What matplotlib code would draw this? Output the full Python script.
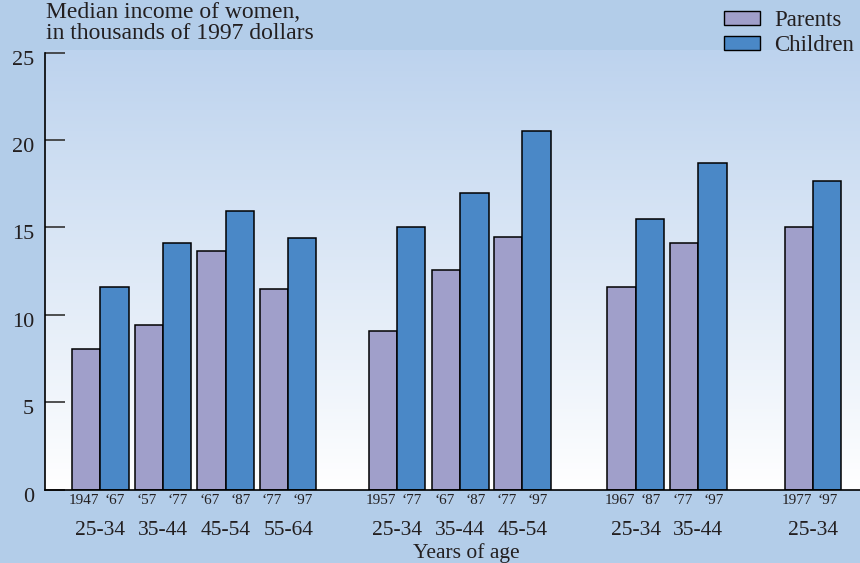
#!/usr/bin/env python3
import numpy as np
import matplotlib as mpl
mpl.use('Agg')
import matplotlib.pyplot as plt
import matplotlib.transforms as mtrans
from matplotlib.patches import Patch
from matplotlib.colors import LinearSegmentedColormap

# Data: median income of women (thousands of 1997 dollars)
parent_years = ['1947', '\u201857', '\u201867', '\u201877', '1957', '\u201867', '\u201877',
                '1967', '\u201877', '1977']
child_years = ['\u201867', '\u201877', '\u201887', '\u201897', '\u201877', '\u201887', '\u201897',
               '\u201887', '\u201897', '\u201897']
age_groups = ['25-34', '35-44', '45-54', '55-64', '25-34', '35-44', '45-54',
              '25-34', '35-44', '25-34']
parents = [8.05, 9.4, 13.65, 11.5, 9.05, 12.55, 14.45, 11.6, 14.1, 15.0]
children = [11.6, 14.1, 15.95, 14.4, 15.0, 16.95, 20.55, 15.5, 18.7, 17.65]

# Layout: pair centres (clusters separated by gaps)
pos = np.array([0, 1, 2, 3, 4.74, 5.75, 6.74, 8.55, 9.55, 11.38])
bw = 0.452

# Style
c_par = '#a09fca'
c_chi = '#4a88c7'
c_bg = '#b3cde9'
c_top = '#bdd3ee'
c_txt = '#231f20'
plt.rcParams['font.family'] = ['Liberation Serif', 'DejaVu Serif']
plt.rcParams['text.color'] = c_txt

fig = plt.figure(figsize=(8.6, 5.63), dpi=100, facecolor=c_bg)
ax = fig.add_axes((45/860, 1 - 489.5/563, 815/860, 439.5/563))
xlim = (-0.883, 12.13)
ylim = (0, 25.16)

# Gradient background
cmap = LinearSegmentedColormap.from_list('bg', ['#ffffff', c_top])
grad = np.linspace(0, 1, 256).reshape(-1, 1)
ax.imshow(grad, cmap=cmap, origin='lower', aspect='auto',
          extent=(*xlim, *ylim), zorder=0)

ax.bar(pos - bw/2, parents, bw, color=c_par, edgecolor='black', lw=1.1, zorder=2)
ax.bar(pos + bw/2, children, bw, color=c_chi, edgecolor='black', lw=1.1, zorder=2)

ax.set_xlim(xlim)
ax.set_ylim(ylim)

for s in ['top', 'right']:
    ax.spines[s].set_visible(False)
ax.spines['left'].set_bounds(0, 25)
ax.spines['left'].set_linewidth(1.2)
ax.spines['bottom'].set_linewidth(1.2)

ax.set_yticks([0, 5, 10, 15, 20, 25])
ax.tick_params(axis='y', direction='in', length=14.5, width=1.2, pad=8,
               labelsize=16, labelcolor=c_txt, color='#333333')
shift = mtrans.ScaledTranslation(0, -5/100, fig.dpi_scale_trans)
for lab in ax.get_yticklabels():
    lab.set_va('center_baseline')
    lab.set_transform(lab.get_transform() + shift)

ticks = np.concatenate([pos - bw/2 - 0.03, pos + bw/2 + 0.01])
labels = parent_years + child_years
ax.set_xticks(ticks)
ax.set_xticklabels(labels)
ax.tick_params(axis='x', length=0, pad=3, labelsize=11, labelcolor=c_txt)

for x, a in zip(pos, age_groups):
    ax.text(x, -2.35, a, ha='center', va='center', fontsize=15.5, clip_on=False)

fig.text(466/860, 1 - 553/563, 'Years of age', ha='center', va='center', fontsize=15.5)
fig.text(46/860, 1 - 2/563, 'Median income of women,\nin thousands of 1997 dollars',
         ha='left', va='top', fontsize=17, linespacing=0.98)

handles = [Patch(facecolor=c_par, edgecolor='black', lw=1.0, label='Parents'),
           Patch(facecolor=c_chi, edgecolor='black', lw=1.0, label='Children')]
fig.legend(handles=handles, loc='upper right', bbox_to_anchor=(1.012, 1.01),
           frameon=False, fontsize=16.5, handlelength=1.55, handleheight=0.57,
           handletextpad=0.65, labelspacing=0.15, borderaxespad=0.3)

fig.savefig('out.png', dpi=100, facecolor=c_bg)
